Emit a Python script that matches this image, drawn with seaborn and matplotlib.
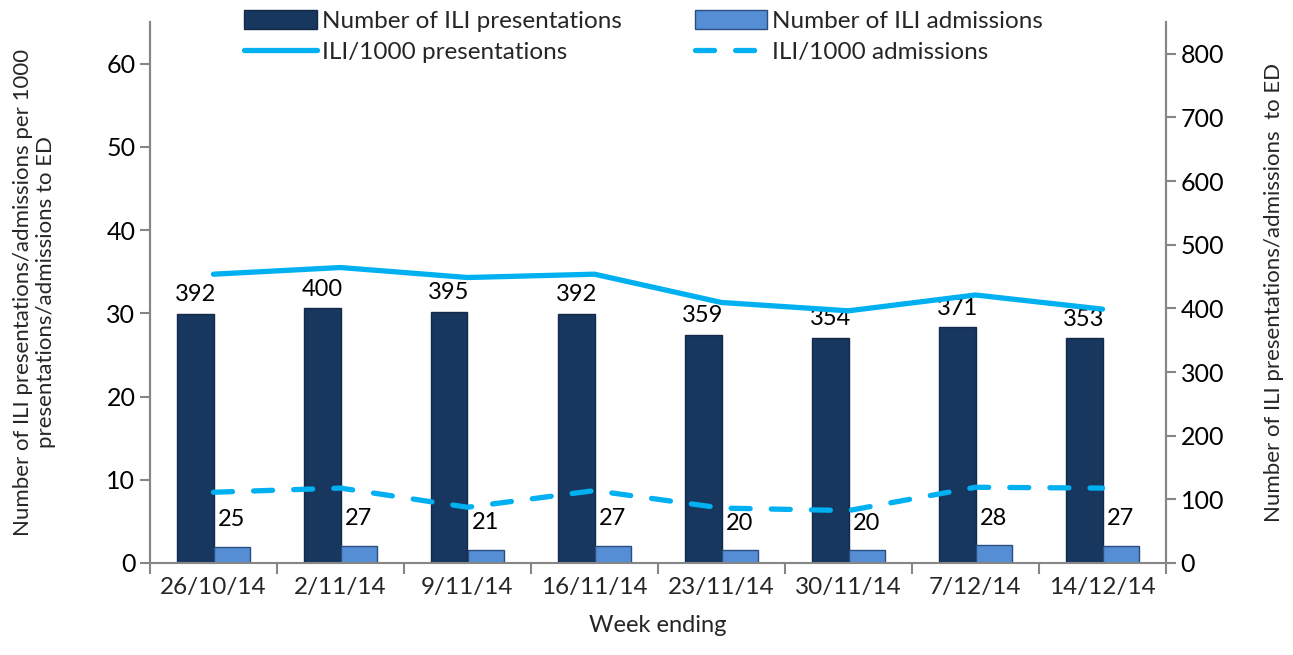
import matplotlib
matplotlib.use("Agg")
import matplotlib.pyplot as plt
import seaborn as sns
import pandas as pd
import numpy as np
from matplotlib.patches import Patch
from matplotlib.lines import Line2D

weeks = ["26/10/14", "2/11/14", "9/11/14", "16/11/14", "23/11/14", "30/11/14", "7/12/14", "14/12/14"]
presentations = [392, 400, 395, 392, 359, 354, 371, 353]
admissions = [25, 27, 21, 27, 20, 20, 28, 27]
rate_presentations = [34.7, 35.5, 34.3, 34.7, 31.3, 30.3, 32.2, 30.5]
rate_admissions = [8.5, 9.0, 6.7, 8.7, 6.6, 6.3, 9.1, 9.0]

sns.set_theme(style="white")
plt.rcParams['font.family'] = ['Lato', 'DejaVu Sans']
FS = 17

DARK = "#17375E"
LIGHT = "#558ED5"
CYAN = "#00B0F0"
GRAY = "#868686"

fig = plt.figure(figsize=(12.93, 6.55), dpi=100)
ax = fig.add_axes([150/1293, 1-563/655, (1166-150)/1293, (563-22)/655])

bars_df = pd.DataFrame({
    "week": weeks * 2,
    "value": presentations + admissions,
    "series": ["Number of ILI presentations"] * len(weeks) + ["Number of ILI admissions"] * len(weeks),
})
sns.barplot(data=bars_df, x="week", y="value", hue="series", order=weeks,
            hue_order=["Number of ILI presentations", "Number of ILI admissions"],
            palette=[DARK, LIGHT], width=0.58, gap=0, dodge=True, ax=ax, legend=False,
            edgecolor="#14294A", linewidth=1.0, saturation=1)
for cont, ec, vals, pad in zip(ax.containers, ["#14294A", "#2C4D80"],
                               [presentations, admissions], [6, 12]):
    for p in cont:
        p.set_edgecolor(ec)
    ax.bar_label(cont, labels=[str(v) for v in vals], padding=pad, fontsize=FS, color="black")

ax.set_ylim(0, 850)
ax.set_xlim(-0.5, 7.5)
ax.yaxis.tick_right()
ax.yaxis.set_label_position("right")
ax.set_yticks(range(0, 801, 100))
ax.set_ylabel("Number of ILI presentations/admissions  to ED", fontsize=FS - 1, labelpad=29)
ax.set_xlabel("Week ending", fontsize=FS, labelpad=12)

ax2 = ax.twinx()
ax2.yaxis.tick_left()
ax2.yaxis.set_label_position("left")
x = np.arange(len(weeks))
sns.lineplot(x=x, y=rate_presentations, ax=ax2, color=CYAN, linewidth=3.8, solid_capstyle="round")
sns.lineplot(x=x, y=rate_admissions, ax=ax2, color=CYAN, linewidth=3.8, dashes=False)
ax2.lines[-1].set_dashes((3.6, 4.0))
ax2.lines[-1].set_dash_capstyle("round")
ax2.set_ylim(0, 65)
ax2.set_xlim(-0.5, 7.5)
ax2.set_yticks(range(0, 61, 10))
ax2.set_ylabel("Number of ILI presentations/admissions per 1000\npresentations/admissions to ED",
               fontsize=FS - 1, labelpad=36)

for a in (ax, ax2):
    a.spines["top"].set_visible(False)
    for s in ("left", "right", "bottom"):
        a.spines[s].set_color(GRAY)
        a.spines[s].set_linewidth(1.5)
    a.tick_params(axis="y", labelsize=FS + 1, colors="black", length=7, width=1.5, color=GRAY, direction="out")

ax2.spines["bottom"].set_visible(False)
ax.tick_params(axis="x", labelsize=FS + 0.5, length=0, pad=10)
ax.set_xticks(np.arange(-0.5, 8.0, 1.0), minor=True)
ax.tick_params(axis="x", which="minor", length=8, width=1.5, color=GRAY, direction="out", bottom=True)
ax.tick_params(axis="y", left=False, right=True, labelleft=False, labelright=True)
ax2.tick_params(axis="y", left=True, right=False, labelleft=True, labelright=False)
ax2.tick_params(axis="x", bottom=False, labelbottom=False)

handles = [
    Patch(facecolor=DARK, edgecolor="#14294A", label="Number of ILI presentations"),
    Line2D([0], [0], color=CYAN, lw=3.8, label="ILI/1000 presentations"),
    Patch(facecolor=LIGHT, edgecolor="#2C4D80", label="Number of ILI admissions"),
    Line2D([0], [0], color=CYAN, lw=3.8, dashes=(3.6, 4.0), dash_capstyle="round", label="ILI/1000 admissions"),
]
leg = fig.legend(handles=handles, ncol=2, loc="upper left",
                 bbox_to_anchor=(244/1293, 1.0 - 10/655), frameon=False, fontsize=FS + 0.5,
                 handlelength=3.0, handleheight=0.85, handletextpad=0.2, columnspacing=3.0,
                 labelspacing=0.35, borderaxespad=0, borderpad=0)

fig.savefig("out.png", dpi=100)
